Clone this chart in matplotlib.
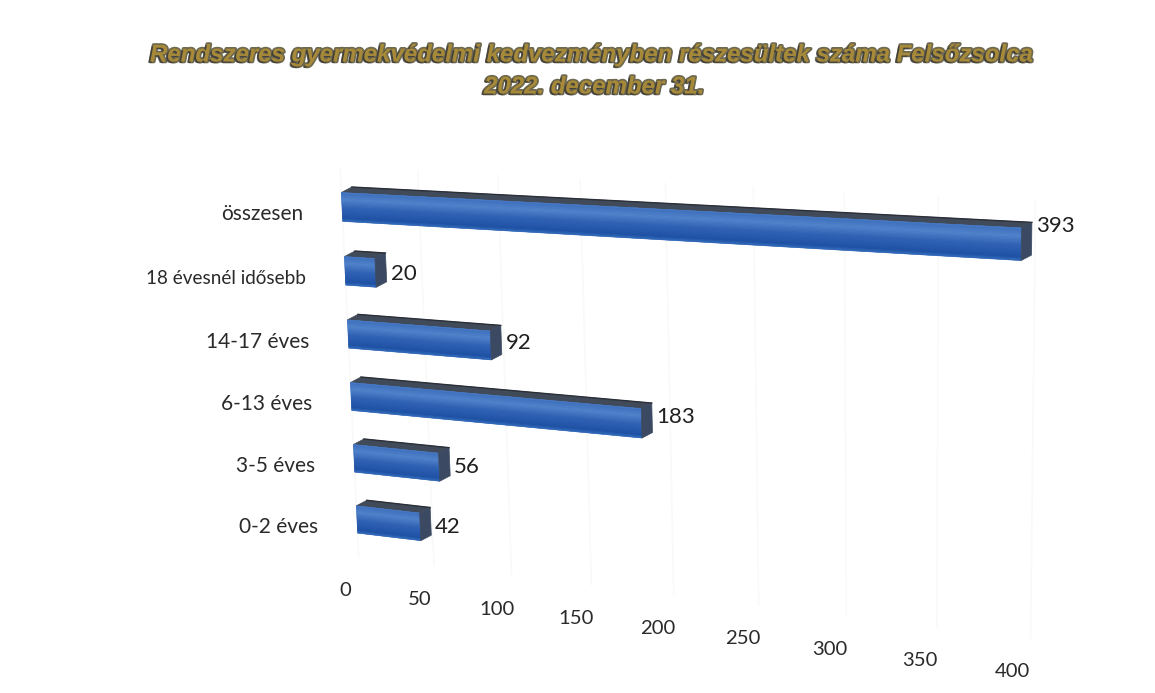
import numpy as np
import matplotlib
matplotlib.use("Agg")
import matplotlib.pyplot as plt
import matplotlib.patheffects as pe
from matplotlib.transforms import Transform

categories = ["0-2 éves", "3-5 éves", "6-13 éves", "14-17 éves", "18 évesnél idősebb", "összesen"]
values = [42, 56, 183, 92, 20, 393]
ticks = [0, 50, 100, 150, 200, 250, 300, 350, 400]
title_lines = ["Rendszeres gyermekvédelmi kedvezményben részesültek száma Felsőzsolca",
               "2022. december 31."]


class Skew(Transform):
    """Perspective map from (value, category position) to canvas units."""
    input_dims = output_dims = 2

    def __init__(self, src, dst):
        super().__init__()
        A, b = [], []
        for (u, w), (x, y) in zip(src, dst):
            A.append([u, w, 1, 0, 0, 0, -u * x, -w * x]); b.append(x)
            A.append([0, 0, 0, u, w, 1, -u * y, -w * y]); b.append(y)
        self.H = np.append(np.linalg.solve(np.array(A, float), np.array(b, float)), 1).reshape(3, 3)

    def transform_non_affine(self, pts):
        p = np.column_stack([pts, np.ones(len(pts))]) @ self.H.T
        return p[:, :2] / p[:, 2:]


fig = plt.figure(figsize=(11.55, 6.93), dpi=100, facecolor="white")
ax = fig.add_axes([0, 0, 1, 1])
ax.set_xlim(0, 1155)
ax.set_ylim(693, 0)
ax.axis("off")
ax.autoscale(False)

skew = Skew([(0, 0), (0, 5), (400, 5), (400, 0)],
            [(357, 519.5), (342, 207), (1035, 245), (1031, 598)])
tr = skew + ax.transData
depth = (10.5, -5.5)
half = 0.225
FONT = "Lato"


def at(u, w):
    return skew.transform_non_affine(np.array([[u, w]], float))[0]


# faint gridlines
for t in ticks:
    ax.plot([t, t], [-0.6, 5.6], color="#f9f9f7", lw=1.2, transform=tr, zorder=1)

stops = np.array([0, .05, .25, .55, .9, 1.0])
reds = np.array([0x4a, 0x40, 0x52, 0x30, 0x1f, 0x35])
greens = np.array([0x80, 0x72, 0x84, 0x62, 0x52, 0x6c])
blues = np.array([0xcc, 0xbe, 0xcc, 0xb4, 0xa4, 0xbc])
N = 24

for i, v in enumerate(values):
    wt, wb = i + half, i - half
    ax.barh(i, v, height=2 * half, color="#2c5eb2", transform=tr, zorder=3)
    edges = np.linspace(wt, wb, N + 1)
    for k in range(N):
        f = (k + .5) / N
        c = (np.interp(f, stops, reds) / 255, np.interp(f, stops, greens) / 255, np.interp(f, stops, blues) / 255)
        ax.fill([0, v, v, 0], [edges[k], edges[k], edges[k + 1], edges[k + 1]],
                color=c, lw=0.4, transform=tr, zorder=4)
    p = skew.transform_non_affine(np.array([(0, wt), (v, wt), (v, wb), (0, wb)], float))
    d = np.array(depth)
    ax.fill(*np.array([p[0], p[1], p[1] + d, p[0] + d]).T, color="#414a59", lw=0.5, zorder=2)
    ax.fill(*np.array([p[1], p[1] + d, p[2] + d, p[2]]).T, color="#3b4a62", lw=0.5, zorder=5)
    ax.plot(*np.array([p[0] + d, p[1] + d]).T, color="#2b2f38", lw=1.0, zorder=5)

    ax.annotate(categories[i], at(0, i), xytext=(-39, -7.5), textcoords="offset pixels",
                ha="right", va="center", fontsize=13.6 if len(categories[i]) > 12 else 15,
                family=FONT, color="#2a2a2a", zorder=6)
    ax.annotate(str(v), at(v, i + 0.0007 * v), xytext=(15, -2), textcoords="offset pixels",
                ha="left", va="center", fontsize=16, family=FONT, color="#1f1f1f", zorder=6)

# value axis labels
for t in ticks:
    x, y = at(t, -1.18 + 0.00025 * t)
    ax.text(x - 15 - 0.007 * t, y, str(t), ha="center", va="center", fontsize=14.6, family=FONT, color="#2a2a2a")

# title
fx = [pe.withStroke(linewidth=2.6, foreground="#4a4326", alpha=0.8),
      pe.withSimplePatchShadow(offset=(-1.5, -1), shadow_rgbFace="#333333", alpha=0.7)]
for line, yy, xx in zip(title_lines, (55, 87), (591, 594)):
    ax.text(xx, yy, line, ha="center", va="center", fontsize=17.3, family="Liberation Sans",
            weight="bold", style="italic", color="#a68a3a", path_effects=fx)

fig.savefig("out.png", dpi=100, facecolor="white")
